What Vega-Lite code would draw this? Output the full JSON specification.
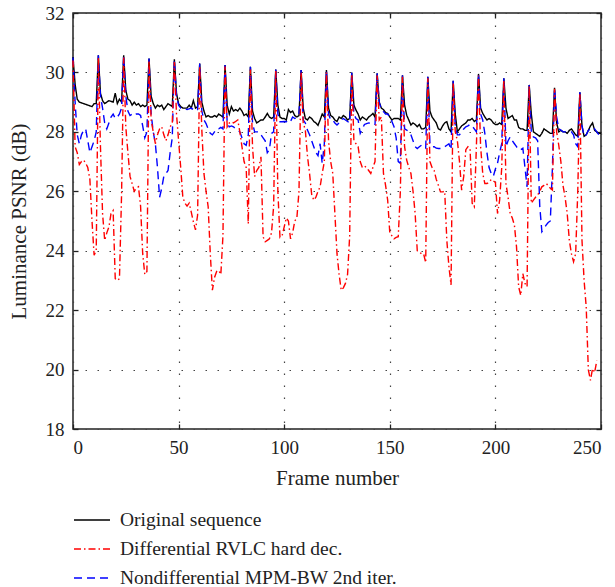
{
"$schema":"https://vega.github.io/schema/vega-lite/v6.json",
"width":528,"height":416,
"autosize":"none",
"padding":{"left":73,"top":13,"right":14,"bottom":158},
"background":"white",
"config":{
"font":"Liberation Serif",
"view":{"stroke":"#222","strokeWidth":1.5},
"axis":{"labelFont":"Liberation Serif","labelFontSize":19,"labelColor":"#222","titleFont":"Liberation Serif","titleFontSize":21,"titleFontWeight":"normal","titleColor":"#222","domain":false,"tickColor":"#222","tickSize":-5,"tickWidth":1.3,"gridColor":"#444","gridDash":[1.5,10.5],"gridWidth":1.2},
"axisX":{"labelPadding":14,"titlePadding":10},
"axisY":{"labelPadding":14,"titlePadding":16},
"legend":{"labelFont":"Liberation Serif","labelFontSize":19.5,"labelColor":"#222","labelLimit":600,"labelOffset":9,"symbolType":"stroke","symbolSize":1296,"symbolStrokeWidth":1.4,"rowPadding":0}
},
"datasets":{
"orig":[{"f":0,"v":30.52},{"f":1,"v":29.6},{"f":2,"v":29.1},{"f":3,"v":29.0},{"f":5,"v":28.95},{"f":7,"v":28.9},{"f":9,"v":28.85},{"f":10,"v":28.95},{"f":11,"v":28.95},{"f":12,"v":30.58},{"f":13,"v":29.3},{"f":14,"v":29.05},{"f":15,"v":28.95},{"f":17,"v":29.05},{"f":19,"v":29.0},{"f":20,"v":29.3},{"f":21,"v":28.95},{"f":22,"v":29.1},{"f":23,"v":29.0},{"f":24,"v":30.58},{"f":25,"v":29.4},{"f":26,"v":29.1},{"f":27,"v":29.05},{"f":28,"v":28.9},{"f":29,"v":29.0},{"f":30,"v":28.9},{"f":31,"v":28.95},{"f":32,"v":28.85},{"f":33,"v":28.9},{"f":34,"v":28.85},{"f":35,"v":28.9},{"f":36,"v":30.47},{"f":37,"v":29.2},{"f":38,"v":28.95},{"f":39,"v":28.8},{"f":40,"v":28.9},{"f":41,"v":28.85},{"f":42,"v":28.9},{"f":43,"v":28.75},{"f":44,"v":28.85},{"f":45,"v":28.95},{"f":46,"v":28.9},{"f":47,"v":28.85},{"f":48,"v":30.44},{"f":49,"v":29.3},{"f":50,"v":28.95},{"f":51,"v":28.85},{"f":52,"v":28.8},{"f":54,"v":28.8},{"f":55,"v":28.9},{"f":56,"v":28.8},{"f":57,"v":29.05},{"f":58,"v":28.8},{"f":59,"v":28.85},{"f":60,"v":30.3},{"f":61,"v":29.0},{"f":62,"v":28.7},{"f":63,"v":28.5},{"f":64,"v":28.55},{"f":65,"v":28.5},{"f":66,"v":28.5},{"f":67,"v":28.55},{"f":68,"v":28.5},{"f":69,"v":28.6},{"f":70,"v":28.55},{"f":71,"v":28.5},{"f":72,"v":30.25},{"f":73,"v":28.9},{"f":74,"v":28.6},{"f":75,"v":28.85},{"f":76,"v":28.7},{"f":77,"v":28.75},{"f":78,"v":28.7},{"f":79,"v":28.8},{"f":80,"v":28.7},{"f":81,"v":28.55},{"f":82,"v":28.6},{"f":83,"v":28.5},{"f":84,"v":30.19},{"f":85,"v":28.7},{"f":86,"v":28.45},{"f":87,"v":28.3},{"f":88,"v":28.35},{"f":89,"v":28.4},{"f":90,"v":28.4},{"f":91,"v":28.5},{"f":92,"v":28.62},{"f":93,"v":28.5},{"f":94,"v":28.45},{"f":95,"v":28.5},{"f":96,"v":30.1},{"f":97,"v":28.9},{"f":98,"v":28.5},{"f":99,"v":28.45},{"f":100,"v":28.45},{"f":101,"v":28.4},{"f":102,"v":28.75},{"f":103,"v":28.65},{"f":104,"v":28.7},{"f":105,"v":28.55},{"f":106,"v":28.5},{"f":107,"v":28.55},{"f":108,"v":30.08},{"f":109,"v":28.8},{"f":110,"v":28.45},{"f":111,"v":28.4},{"f":112,"v":28.5},{"f":113,"v":28.45},{"f":114,"v":28.35},{"f":115,"v":28.3},{"f":116,"v":28.22},{"f":117,"v":28.4},{"f":118,"v":28.6},{"f":119,"v":28.5},{"f":120,"v":30.08},{"f":121,"v":28.8},{"f":122,"v":28.55},{"f":123,"v":28.5},{"f":124,"v":28.4},{"f":125,"v":28.35},{"f":126,"v":28.5},{"f":127,"v":28.45},{"f":128,"v":28.55},{"f":129,"v":28.5},{"f":130,"v":28.4},{"f":131,"v":28.45},{"f":132,"v":30.0},{"f":133,"v":28.9},{"f":134,"v":28.73},{"f":135,"v":28.6},{"f":136,"v":28.4},{"f":137,"v":28.5},{"f":138,"v":28.45},{"f":139,"v":28.4},{"f":140,"v":28.5},{"f":141,"v":28.55},{"f":142,"v":28.62},{"f":143,"v":28.5},{"f":144,"v":29.97},{"f":145,"v":29.0},{"f":146,"v":28.8},{"f":147,"v":28.75},{"f":148,"v":28.65},{"f":149,"v":28.62},{"f":150,"v":28.5},{"f":151,"v":28.4},{"f":152,"v":28.45},{"f":153,"v":28.45},{"f":154,"v":28.45},{"f":155,"v":28.4},{"f":156,"v":29.9},{"f":157,"v":28.9},{"f":158,"v":28.56},{"f":159,"v":28.4},{"f":160,"v":28.23},{"f":161,"v":28.3},{"f":162,"v":28.25},{"f":163,"v":28.17},{"f":164,"v":28.25},{"f":165,"v":28.1},{"f":166,"v":28.1},{"f":167,"v":28.15},{"f":168,"v":29.85},{"f":169,"v":28.7},{"f":170,"v":28.5},{"f":171,"v":28.4},{"f":172,"v":28.3},{"f":173,"v":28.1},{"f":174,"v":28.06},{"f":175,"v":28.2},{"f":176,"v":28.3},{"f":177,"v":28.34},{"f":178,"v":28.1},{"f":179,"v":28.0},{"f":180,"v":29.72},{"f":181,"v":28.6},{"f":182,"v":28.0},{"f":183,"v":28.1},{"f":184,"v":28.2},{"f":185,"v":28.25},{"f":186,"v":28.3},{"f":187,"v":28.4},{"f":188,"v":28.4},{"f":189,"v":28.45},{"f":190,"v":28.35},{"f":191,"v":28.4},{"f":192,"v":29.95},{"f":193,"v":28.8},{"f":194,"v":28.62},{"f":195,"v":28.5},{"f":196,"v":28.4},{"f":197,"v":28.45},{"f":198,"v":28.4},{"f":199,"v":28.3},{"f":200,"v":28.25},{"f":201,"v":28.25},{"f":202,"v":28.3},{"f":203,"v":28.25},{"f":204,"v":29.8},{"f":205,"v":28.8},{"f":206,"v":28.45},{"f":207,"v":28.5},{"f":208,"v":28.55},{"f":209,"v":28.4},{"f":210,"v":28.4},{"f":211,"v":28.15},{"f":212,"v":28.1},{"f":213,"v":28.1},{"f":214,"v":28.05},{"f":215,"v":28.05},{"f":216,"v":29.58},{"f":217,"v":28.6},{"f":218,"v":28.0},{"f":219,"v":27.95},{"f":220,"v":27.9},{"f":221,"v":27.85},{"f":222,"v":27.95},{"f":223,"v":28.1},{"f":224,"v":28.05},{"f":225,"v":28.0},{"f":226,"v":27.95},{"f":227,"v":27.95},{"f":228,"v":29.48},{"f":229,"v":28.3},{"f":230,"v":28.0},{"f":231,"v":28.05},{"f":232,"v":28.0},{"f":233,"v":28.0},{"f":234,"v":27.95},{"f":235,"v":28.05},{"f":236,"v":28.1},{"f":237,"v":28.0},{"f":238,"v":27.9},{"f":239,"v":27.85},{"f":240,"v":29.33},{"f":241,"v":28.2},{"f":242,"v":27.85},{"f":243,"v":27.9},{"f":244,"v":28.05},{"f":245,"v":28.2},{"f":246,"v":28.3},{"f":247,"v":28.05},{"f":248,"v":28.0},{"f":249,"v":27.95},{"f":250,"v":27.95}],
"blue":[{"f":0,"v":30.5},{"f":1,"v":29.0},{"f":2,"v":27.9},{"f":3,"v":27.6},{"f":4,"v":27.9},{"f":5,"v":28.05},{"f":6,"v":28.1},{"f":7,"v":27.7},{"f":8,"v":27.3},{"f":9,"v":27.5},{"f":10,"v":27.7},{"f":11,"v":28.0},{"f":12,"v":30.58},{"f":13,"v":29.2},{"f":14,"v":28.8},{"f":15,"v":28.3},{"f":16,"v":28.1},{"f":17,"v":28.3},{"f":18,"v":28.5},{"f":19,"v":28.6},{"f":20,"v":28.45},{"f":21,"v":28.5},{"f":22,"v":28.6},{"f":23,"v":28.8},{"f":24,"v":30.58},{"f":25,"v":29.2},{"f":26,"v":28.7},{"f":27,"v":28.55},{"f":28,"v":28.6},{"f":29,"v":28.55},{"f":30,"v":28.6},{"f":31,"v":28.6},{"f":32,"v":28.55},{"f":33,"v":28.2},{"f":34,"v":27.8},{"f":35,"v":28.0},{"f":36,"v":30.47},{"f":37,"v":28.6},{"f":38,"v":28.0},{"f":39,"v":27.6},{"f":40,"v":26.8},{"f":41,"v":25.8},{"f":42,"v":26.1},{"f":43,"v":26.5},{"f":44,"v":26.6},{"f":45,"v":26.7},{"f":46,"v":27.3},{"f":47,"v":27.8},{"f":48,"v":30.44},{"f":49,"v":29.2},{"f":50,"v":28.9},{"f":51,"v":28.8},{"f":52,"v":28.8},{"f":54,"v":28.75},{"f":56,"v":28.8},{"f":58,"v":28.7},{"f":59,"v":28.75},{"f":60,"v":30.3},{"f":61,"v":28.7},{"f":62,"v":28.4},{"f":63,"v":28.28},{"f":64,"v":28.1},{"f":65,"v":27.95},{"f":66,"v":27.9},{"f":67,"v":28.0},{"f":68,"v":28.1},{"f":69,"v":28.1},{"f":70,"v":28.15},{"f":71,"v":28.1},{"f":72,"v":30.25},{"f":73,"v":28.3},{"f":74,"v":28.17},{"f":75,"v":28.2},{"f":76,"v":28.17},{"f":77,"v":28.1},{"f":78,"v":28.05},{"f":79,"v":28.0},{"f":80,"v":27.8},{"f":81,"v":27.6},{"f":82,"v":27.55},{"f":83,"v":27.9},{"f":84,"v":30.19},{"f":85,"v":28.3},{"f":86,"v":28.0},{"f":87,"v":28.0},{"f":88,"v":28.0},{"f":89,"v":27.9},{"f":90,"v":27.8},{"f":91,"v":27.7},{"f":92,"v":27.3},{"f":93,"v":27.4},{"f":94,"v":27.95},{"f":95,"v":28.0},{"f":96,"v":30.1},{"f":97,"v":28.6},{"f":98,"v":28.34},{"f":99,"v":28.34},{"f":100,"v":28.35},{"f":101,"v":28.34},{"f":102,"v":28.4},{"f":103,"v":28.35},{"f":104,"v":28.5},{"f":105,"v":28.45},{"f":106,"v":28.5},{"f":107,"v":28.6},{"f":108,"v":30.08},{"f":109,"v":28.4},{"f":110,"v":28.3},{"f":111,"v":28.06},{"f":112,"v":27.9},{"f":113,"v":27.7},{"f":114,"v":27.5},{"f":115,"v":27.3},{"f":116,"v":27.2},{"f":117,"v":27.6},{"f":118,"v":26.94},{"f":119,"v":27.6},{"f":120,"v":30.08},{"f":121,"v":28.6},{"f":122,"v":28.4},{"f":123,"v":28.4},{"f":124,"v":28.3},{"f":125,"v":28.23},{"f":126,"v":28.3},{"f":127,"v":28.4},{"f":128,"v":28.45},{"f":129,"v":28.4},{"f":130,"v":28.35},{"f":131,"v":28.3},{"f":132,"v":30.0},{"f":133,"v":28.6},{"f":134,"v":28.45},{"f":135,"v":28.4},{"f":136,"v":27.95},{"f":137,"v":28.1},{"f":138,"v":28.25},{"f":139,"v":28.28},{"f":140,"v":28.3},{"f":141,"v":28.28},{"f":142,"v":28.3},{"f":143,"v":28.25},{"f":144,"v":29.97},{"f":145,"v":29.0},{"f":146,"v":28.75},{"f":147,"v":28.68},{"f":148,"v":28.6},{"f":149,"v":28.6},{"f":150,"v":28.5},{"f":151,"v":28.35},{"f":152,"v":28.17},{"f":153,"v":27.8},{"f":154,"v":27.0},{"f":155,"v":26.94},{"f":156,"v":29.9},{"f":157,"v":28.1},{"f":158,"v":28.06},{"f":159,"v":28.0},{"f":160,"v":27.9},{"f":161,"v":27.7},{"f":162,"v":27.5},{"f":163,"v":27.44},{"f":164,"v":27.5},{"f":165,"v":27.55},{"f":166,"v":27.5},{"f":167,"v":27.45},{"f":168,"v":29.85},{"f":169,"v":27.6},{"f":170,"v":27.5},{"f":171,"v":27.5},{"f":172,"v":27.45},{"f":173,"v":27.44},{"f":174,"v":27.44},{"f":175,"v":27.45},{"f":176,"v":27.5},{"f":177,"v":27.55},{"f":178,"v":27.6},{"f":179,"v":27.4},{"f":180,"v":29.72},{"f":181,"v":28.2},{"f":182,"v":27.9},{"f":183,"v":27.9},{"f":184,"v":28.0},{"f":185,"v":28.1},{"f":186,"v":28.17},{"f":187,"v":28.2},{"f":188,"v":28.25},{"f":189,"v":28.2},{"f":190,"v":28.1},{"f":191,"v":28.0},{"f":192,"v":29.95},{"f":193,"v":28.6},{"f":194,"v":28.4},{"f":195,"v":27.95},{"f":196,"v":27.3},{"f":197,"v":26.8},{"f":198,"v":26.6},{"f":199,"v":26.5},{"f":200,"v":26.75},{"f":201,"v":26.94},{"f":202,"v":27.3},{"f":203,"v":27.6},{"f":204,"v":29.8},{"f":205,"v":27.5},{"f":206,"v":27.7},{"f":207,"v":27.83},{"f":208,"v":27.7},{"f":209,"v":27.6},{"f":210,"v":27.5},{"f":211,"v":27.4},{"f":212,"v":27.4},{"f":213,"v":27.45},{"f":214,"v":26.8},{"f":215,"v":26.15},{"f":216,"v":29.58},{"f":217,"v":28.0},{"f":218,"v":27.83},{"f":219,"v":27.8},{"f":220,"v":27.7},{"f":221,"v":25.5},{"f":222,"v":24.64},{"f":223,"v":24.75},{"f":224,"v":24.86},{"f":225,"v":24.95},{"f":226,"v":25.0},{"f":227,"v":26.8},{"f":228,"v":29.48},{"f":229,"v":28.5},{"f":230,"v":28.1},{"f":231,"v":28.06},{"f":232,"v":28.0},{"f":234,"v":28.0},{"f":236,"v":28.0},{"f":237,"v":27.9},{"f":238,"v":27.6},{"f":239,"v":27.5},{"f":240,"v":29.33},{"f":241,"v":28.2},{"f":242,"v":27.85},{"f":243,"v":27.9},{"f":244,"v":28.05},{"f":245,"v":28.1},{"f":246,"v":28.15},{"f":247,"v":28.1},{"f":248,"v":28.0},{"f":249,"v":27.9},{"f":250,"v":27.85}],
"red":[{"f":0,"v":30.4},{"f":1,"v":27.5},{"f":2,"v":27.3},{"f":3,"v":26.9},{"f":4,"v":27.0},{"f":5,"v":27.05},{"f":6,"v":26.95},{"f":7,"v":26.8},{"f":8,"v":26.4},{"f":9,"v":25.0},{"f":10,"v":23.85},{"f":11,"v":24.0},{"f":12,"v":30.5},{"f":13,"v":27.5},{"f":14,"v":25.25},{"f":15,"v":24.35},{"f":16,"v":24.6},{"f":17,"v":24.8},{"f":18,"v":25.25},{"f":19,"v":25.35},{"f":20,"v":23.06},{"f":21,"v":23.0},{"f":22,"v":23.06},{"f":23,"v":25.9},{"f":24,"v":30.5},{"f":25,"v":28.17},{"f":26,"v":27.3},{"f":27,"v":26.5},{"f":28,"v":26.26},{"f":29,"v":26.0},{"f":30,"v":26.1},{"f":31,"v":26.15},{"f":32,"v":25.5},{"f":33,"v":23.9},{"f":34,"v":23.2},{"f":35,"v":23.3},{"f":36,"v":30.4},{"f":37,"v":28.4},{"f":38,"v":28.0},{"f":39,"v":27.6},{"f":40,"v":27.9},{"f":41,"v":28.1},{"f":42,"v":28.17},{"f":43,"v":27.9},{"f":44,"v":27.7},{"f":45,"v":27.9},{"f":46,"v":28.17},{"f":47,"v":28.3},{"f":48,"v":30.35},{"f":49,"v":28.6},{"f":50,"v":27.7},{"f":51,"v":26.8},{"f":52,"v":25.8},{"f":53,"v":25.6},{"f":54,"v":25.5},{"f":55,"v":25.6},{"f":56,"v":25.3},{"f":57,"v":24.97},{"f":58,"v":24.7},{"f":59,"v":25.2},{"f":60,"v":30.2},{"f":61,"v":28.06},{"f":62,"v":26.6},{"f":63,"v":26.0},{"f":64,"v":25.48},{"f":65,"v":23.9},{"f":66,"v":22.67},{"f":67,"v":23.1},{"f":68,"v":23.3},{"f":69,"v":23.34},{"f":70,"v":23.2},{"f":71,"v":24.5},{"f":72,"v":30.2},{"f":73,"v":28.17},{"f":74,"v":28.3},{"f":75,"v":28.34},{"f":76,"v":28.3},{"f":77,"v":28.35},{"f":78,"v":28.4},{"f":79,"v":28.0},{"f":80,"v":27.5},{"f":81,"v":27.0},{"f":82,"v":26.8},{"f":83,"v":24.9},{"f":84,"v":30.1},{"f":85,"v":27.5},{"f":86,"v":26.5},{"f":87,"v":26.7},{"f":88,"v":26.8},{"f":89,"v":27.16},{"f":90,"v":24.47},{"f":91,"v":24.3},{"f":92,"v":24.35},{"f":93,"v":24.4},{"f":94,"v":24.6},{"f":95,"v":25.5},{"f":96,"v":30.05},{"f":97,"v":26.0},{"f":98,"v":24.45},{"f":99,"v":24.5},{"f":100,"v":24.8},{"f":101,"v":25.1},{"f":102,"v":25.0},{"f":103,"v":24.4},{"f":104,"v":24.6},{"f":105,"v":25.0},{"f":106,"v":25.1},{"f":107,"v":26.0},{"f":108,"v":30.0},{"f":109,"v":28.3},{"f":110,"v":28.06},{"f":111,"v":27.2},{"f":112,"v":26.6},{"f":113,"v":25.9},{"f":114,"v":25.7},{"f":115,"v":25.8},{"f":116,"v":26.0},{"f":117,"v":26.15},{"f":118,"v":26.6},{"f":119,"v":27.0},{"f":120,"v":30.0},{"f":121,"v":27.7},{"f":122,"v":27.0},{"f":123,"v":26.6},{"f":124,"v":25.25},{"f":125,"v":23.9},{"f":126,"v":23.2},{"f":127,"v":22.67},{"f":128,"v":22.75},{"f":129,"v":22.9},{"f":130,"v":23.2},{"f":131,"v":24.5},{"f":132,"v":29.95},{"f":133,"v":27.7},{"f":134,"v":27.6},{"f":135,"v":27.5},{"f":136,"v":27.0},{"f":137,"v":26.8},{"f":138,"v":26.85},{"f":139,"v":26.8},{"f":140,"v":26.7},{"f":141,"v":26.6},{"f":142,"v":26.8},{"f":143,"v":27.0},{"f":144,"v":29.9},{"f":145,"v":28.4},{"f":146,"v":28.5},{"f":147,"v":26.6},{"f":148,"v":26.2},{"f":149,"v":25.7},{"f":150,"v":24.6},{"f":151,"v":24.5},{"f":152,"v":24.4},{"f":153,"v":24.45},{"f":154,"v":24.47},{"f":155,"v":26.0},{"f":156,"v":29.85},{"f":157,"v":27.5},{"f":158,"v":27.05},{"f":159,"v":26.8},{"f":160,"v":26.6},{"f":161,"v":26.0},{"f":162,"v":25.25},{"f":163,"v":24.0},{"f":164,"v":23.95},{"f":165,"v":23.9},{"f":166,"v":23.9},{"f":167,"v":23.6},{"f":168,"v":29.8},{"f":169,"v":27.0},{"f":170,"v":26.8},{"f":171,"v":26.7},{"f":172,"v":26.4},{"f":173,"v":26.2},{"f":174,"v":25.98},{"f":175,"v":25.98},{"f":176,"v":26.0},{"f":177,"v":24.35},{"f":178,"v":23.46},{"f":179,"v":22.85},{"f":180,"v":29.65},{"f":181,"v":28.0},{"f":182,"v":27.7},{"f":183,"v":27.0},{"f":184,"v":26.04},{"f":185,"v":26.5},{"f":186,"v":27.4},{"f":187,"v":27.5},{"f":188,"v":27.45},{"f":189,"v":25.6},{"f":190,"v":25.48},{"f":191,"v":27.5},{"f":192,"v":29.9},{"f":193,"v":27.5},{"f":194,"v":26.6},{"f":195,"v":26.26},{"f":196,"v":26.26},{"f":197,"v":26.3},{"f":198,"v":26.4},{"f":199,"v":26.35},{"f":200,"v":26.3},{"f":201,"v":25.25},{"f":202,"v":25.7},{"f":203,"v":26.8},{"f":204,"v":29.75},{"f":205,"v":26.26},{"f":206,"v":25.8},{"f":207,"v":25.25},{"f":208,"v":25.1},{"f":209,"v":24.86},{"f":210,"v":24.13},{"f":211,"v":22.79},{"f":212,"v":22.5},{"f":213,"v":23.23},{"f":214,"v":22.9},{"f":215,"v":22.79},{"f":216,"v":29.55},{"f":217,"v":25.6},{"f":218,"v":25.7},{"f":219,"v":25.8},{"f":220,"v":25.87},{"f":221,"v":26.0},{"f":222,"v":26.15},{"f":223,"v":26.2},{"f":224,"v":26.26},{"f":225,"v":26.2},{"f":226,"v":26.1},{"f":227,"v":26.04},{"f":228,"v":29.45},{"f":229,"v":28.0},{"f":230,"v":27.55},{"f":231,"v":27.0},{"f":232,"v":26.2},{"f":233,"v":25.8},{"f":234,"v":25.25},{"f":235,"v":24.35},{"f":236,"v":23.9},{"f":237,"v":23.63},{"f":238,"v":23.9},{"f":239,"v":26.0},{"f":240,"v":29.3},{"f":241,"v":24.35},{"f":242,"v":23.0},{"f":243,"v":22.1},{"f":244,"v":20.0},{"f":245,"v":19.64},{"f":246,"v":20.03},{"f":247,"v":19.9},{"f":248,"v":20.3}]
},
"encoding":{
"x":{"field":"f","type":"quantitative","scale":{"domain":[0,250],"nice":false,"zero":false},"axis":{"values":[0,50,100,150,200,250],"title":"Frame number","grid":true}},
"y":{"field":"v","type":"quantitative","scale":{"domain":[18,32],"nice":false,"zero":false},"axis":{"values":[18,20,22,24,26,28,30,32],"title":"Luminance PSNR (dB)","grid":true}}
},
"layer":[
{"layer":[
{"data":{"name":"orig"},"mark":{"type":"line","strokeWidth":1.4},"encoding":{
"color":{"datum":"Original sequence","type":"nominal","scale":{"domain":["Original sequence","Differential RVLC hard dec.","Nondifferential MPM-BW 2nd iter."],"range":["#000000","#ff0000","#0000ff"]},"legend":{"title":null,"orient":"none","legendX":0,"legendY":488}},
"strokeDash":{"datum":"Original sequence","type":"nominal","scale":{"domain":["Original sequence","Differential RVLC hard dec.","Nondifferential MPM-BW 2nd iter."],"range":[[1,0],[7,3,1.5,3],[8,5]]},"legend":{"title":null,"orient":"none","legendX":0,"legendY":488}}}},
{"data":{"name":"blue"},"mark":{"type":"line","strokeWidth":1.4},"encoding":{"color":{"datum":"Nondifferential MPM-BW 2nd iter.","type":"nominal"},"strokeDash":{"datum":"Nondifferential MPM-BW 2nd iter.","type":"nominal"}}},
{"data":{"name":"red"},"mark":{"type":"line","strokeWidth":1.4},"encoding":{"color":{"datum":"Differential RVLC hard dec.","type":"nominal"},"strokeDash":{"datum":"Differential RVLC hard dec.","type":"nominal"}}}
]},
{"data":{"name":"orig"},"mark":{"type":"line","opacity":0},"encoding":{
"x":{"field":"f","type":"quantitative","scale":{"domain":[0,250],"nice":false,"zero":false},"axis":{"orient":"top","values":[0,50,100,150,200,250],"labels":false,"title":null,"grid":false}},
"y":{"field":"v","type":"quantitative","scale":{"domain":[18,32],"nice":false,"zero":false},"axis":{"orient":"right","values":[18,20,22,24,26,28,30,32],"labels":false,"title":null,"grid":false}}}}
],
"resolve":{"axis":{"x":"independent","y":"independent"}}
}
